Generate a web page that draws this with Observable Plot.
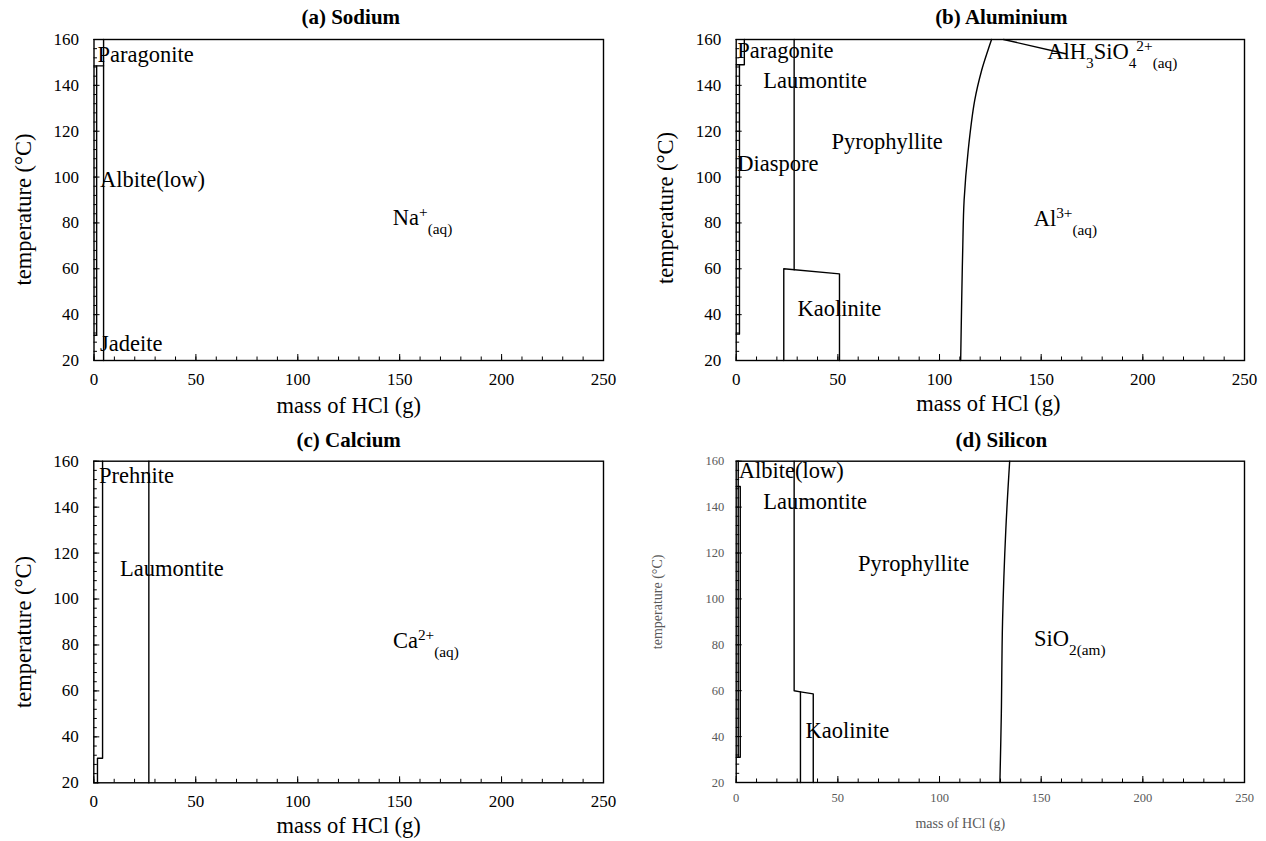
<!DOCTYPE html>
<html><head><meta charset="utf-8">
<script src="https://cdn.jsdelivr.net/npm/d3@7"></script>
<script src="https://cdn.jsdelivr.net/npm/@observablehq/plot@0.6"></script>
<style>
body{margin:0;background:#fff;}
#root{position:relative;width:1266px;height:841px;background:#fff;overflow:hidden;}
#root svg{position:absolute;font-family:"Liberation Serif","Times New Roman",serif;}
#root svg text{font-family:"Liberation Serif","Times New Roman",serif;}
</style></head><body><div id="root"></div>
<script>
// ---------- shared axes ----------
const xMajor = [0, 50, 100, 150, 200, 250];
const xMinor = [0,10,20,30,40,50,60,70,80,90,100,110,120,130,140,150,160,170,180,190,200,210,220,230,240,250];
const yMajor = [20, 40, 60, 80, 100, 120, 140, 160];
const yMinor = [20,24,28,32,36,40,44,48,52,56,60,64,68,72,76,80,84,88,92,96,100,104,108,112,116,120,124,128,132,136,140,144,148,152,156,160];
const xTitle = "mass of HCl (g)";
const yTitle = "temperature (°C)";

// ---------- (a) Sodium ----------
const sodiumTitle = "(a) Sodium";
const sodiumBoundaries = [
  [[4.7, 20], [4.7, 160]],
  [[0, 148.5], [4.7, 148.5]],
  [[1.3, 148.5], [1.3, 31]],
  [[0, 31], [1.3, 31]]
];
const sodiumCurves = [];
const sodiumLabels = ["Paragonite", "Albite(low)", "Jadeite", "Na^{+}_{(aq)}"];
const sodiumLabelX = [1.7, 3.0, 3.0, 146.6];
const sodiumLabelT = [153.5, 99, 27.5, 82.3];

// ---------- (b) Aluminium ----------
const aluminiumTitle = "(b) Aluminium";
const aluminiumBoundaries = [
  [[4.0, 160], [4.0, 149], [0, 149]],
  [[1.6, 149], [1.6, 31.5], [0, 31.5]],
  [[28.5, 160], [28.5, 59.6]],
  [[23.4, 20], [23.4, 60], [50.8, 57.8], [50.8, 20]],
  [[131.5, 160], [162, 153.8]]
];
const aluminiumCurves = [
  [[110.4, 20], [110.9, 46], [111.4, 68], [112.1, 90], [114.1, 111.6], [117.3, 133.4], [120.7, 146.5], [123.7, 155], [125.6, 160]]
];
const aluminiumLabels = ["Paragonite", "Laumontite", "Pyrophyllite", "Diaspore", "Kaolinite", "Al^{3+}_{(aq)}", "AlH_{3}SiO_{4}^{2+}_{(aq)}"];
const aluminiumLabelX = [0.5, 13.3, 46.9, 0.5, 30.2, 146.3, 153];
const aluminiumLabelT = [155.2, 142.1, 115.2, 105.8, 42.5, 82, 154.5];

// ---------- (c) Calcium ----------
const calciumTitle = "(c) Calcium";
const calciumBoundaries = [
  [[4.3, 160], [4.3, 30.7], [1.8, 30.7], [1.8, 20]],
  [[27, 20], [27, 160]]
];
const calciumCurves = [];
const calciumLabels = ["Prehnite", "Laumontite", "Ca^{2+}_{(aq)}"];
const calciumLabelX = [2.5, 12.8, 146.7];
const calciumLabelT = [153.8, 113.2, 82];

// ---------- (d) Silicon ----------
const siliconTitle = "(d) Silicon";
const siliconBoundaries = [
  [[1.0, 160], [1.0, 31]],
  [[0, 149], [2.0, 149], [2.0, 31], [0, 31]],
  [[28.5, 160], [28.5, 60], [31.6, 59.5], [37.9, 58.6], [37.9, 20]],
  [[31.6, 59.5], [31.6, 20]]
];
const siliconCurves = [
  [[129.7, 20], [130.4, 50], [131.0, 90], [132.6, 130], [134.5, 160]]
];
const siliconLabels = ["Albite(low)", "Laumontite", "Pyrophyllite", "Kaolinite", "SiO_{2(am)}"];
const siliconLabelX = [1.3, 13.3, 59.9, 34.1, 146.5];
const siliconLabelT = [156, 142.2, 115.3, 42.5, 82.7];

// ---------- helpers ----------
const toRows = segs => segs.flatMap((seg, i) => seg.map(([x, t]) => ({seg: i, x, t})));
const labelRows = (texts, xs, ts) => texts.map((label, i) => ({label, x: xs[i], t: ts[i]}));
const FONT = "Liberation Serif";

function richify(svg) {
  const ns = "http://www.w3.org/2000/svg";
  svg.querySelectorAll("text").forEach(t => {
    const s = t.textContent;
    if (!/[\^_]\{/.test(s)) return;
    while (t.firstChild) t.removeChild(t.firstChild);
    const re = /([\^_])\{([^}]*)\}|([^\^_]+)/g;
    let m;
    while ((m = re.exec(s))) {
      const ts = document.createElementNS(ns, "tspan");
      if (m[3] !== undefined) {
        ts.textContent = m[3];
      } else {
        ts.textContent = m[2];
        ts.setAttribute("font-size", "68%");
        ts.setAttribute("baseline-shift", m[1] === "^" ? "super" : "sub");
      }
      t.appendChild(ts);
    }
  });
}

function panel(cfg) {
  const {left, top, width, height, mt, mr, mb, ml} = cfg;
  const ih = height - mt - mb, iw = width - ml - mr;
  const svg = Plot.plot({
    width, height,
    marginTop: mt, marginRight: mr, marginBottom: mb, marginLeft: ml,
    x: {domain: [0, 250]},
    y: {domain: [20, 160]},
    style: {fontFamily: FONT, color: "#000", background: "transparent", overflow: "visible"},
    marks: [
      Plot.ruleX(xMinor, {x: d => d, insetTop: ih - 3.5, stroke: "#000", strokeWidth: 1}),
      Plot.ruleX(xMajor, {x: d => d, insetTop: ih - 6, stroke: "#000", strokeWidth: 1}),
      Plot.ruleY(yMinor, {y: d => d, insetRight: iw - 3.5, stroke: "#000", strokeWidth: 1}),
      Plot.ruleY(yMajor, {y: d => d, insetRight: iw - 6, stroke: "#000", strokeWidth: 1}),
      Plot.axisX(xMajor, {tickSize: 0, tickPadding: cfg.xPad, fontSize: cfg.tickFont, fontFamily: FONT, fill: cfg.tickColor, label: null}),
      Plot.axisY(yMajor, {tickSize: 0, tickPadding: cfg.yPad, fontSize: cfg.tickFont, fontFamily: FONT, fill: cfg.tickColor, label: null}),
      Plot.line(toRows(cfg.lines), {x: "x", y: "t", z: "seg", stroke: "#000", strokeWidth: 1.4}),
      Plot.line(toRows(cfg.curves), {x: "x", y: "t", z: "seg", stroke: "#000", strokeWidth: 1.4, curve: "catmull-rom"}),
      Plot.frame({stroke: "#000", strokeWidth: 1.4}),
      Plot.text(cfg.labels, {x: "x", y: "t", text: "label", textAnchor: "start", fontSize: 22.5, fontFamily: FONT, fill: "#000"}),
      Plot.text([cfg.title], {text: d => d, frameAnchor: "top", lineAnchor: "middle", textAnchor: "middle", dx: cfg.titleDx, dy: cfg.titleDy, fontWeight: "bold", fontSize: 21, fontFamily: FONT, fill: "#000"}),
      Plot.text([xTitle], {text: d => d, frameAnchor: "bottom", lineAnchor: "middle", textAnchor: "middle", dx: cfg.xlDx, dy: cfg.xlDy, fontSize: cfg.labFont, fontFamily: FONT, fill: cfg.tickColor}),
      Plot.text([yTitle], {text: d => d, frameAnchor: "left", lineAnchor: "middle", textAnchor: "middle", rotate: -90, dx: cfg.ylDx, dy: cfg.ylDy, fontSize: cfg.labFont, fontFamily: FONT, fill: cfg.tickColor})
    ]
  });
  richify(svg);
  svg.style.left = left + "px";
  svg.style.top = top + "px";
  document.getElementById("root").appendChild(svg);
}

panel({left: 0, top: 0, width: 633, height: 420, mt: 39, mr: 30, mb: 60, ml: 93.5,
  lines: sodiumBoundaries, curves: sodiumCurves, labels: labelRows(sodiumLabels, sodiumLabelX, sodiumLabelT), title: sodiumTitle,
  titleDx: 2, titleDy: -22, tickFont: 17, tickColor: "#000", labFont: 22.5, xPad: 12, yPad: 15,
  xlDx: 0, xlDy: 45, ylDx: -70.5, ylDy: 9.5});

panel({left: 633, top: 0, width: 633, height: 420, mt: 39, mr: 22, mb: 60, ml: 102.7,
  lines: aluminiumBoundaries, curves: aluminiumCurves, labels: labelRows(aluminiumLabels, aluminiumLabelX, aluminiumLabelT), title: aluminiumTitle,
  titleDx: 11, titleDy: -22, tickFont: 17, tickColor: "#000", labFont: 22.5, xPad: 12, yPad: 15,
  xlDx: -2, xlDy: 43, ylDx: -70, ylDy: 8});

panel({left: 0, top: 420, width: 633, height: 421, mt: 40.7, mr: 30, mb: 58.7, ml: 93.3,
  lines: calciumBoundaries, curves: calciumCurves, labels: labelRows(calciumLabels, calciumLabelX, calciumLabelT), title: calciumTitle,
  titleDx: 0, titleDy: -21, tickFont: 17, tickColor: "#000", labFont: 22.5, xPad: 12, yPad: 15,
  xlDx: 0, xlDy: 43, ylDx: -70, ylDy: 10});

panel({left: 633, top: 420, width: 633, height: 421, mt: 40.7, mr: 22, mb: 59, ml: 102.7,
  lines: siliconBoundaries, curves: siliconCurves, labels: labelRows(siliconLabels, siliconLabelX, siliconLabelT), title: siliconTitle,
  titleDx: 11, titleDy: -21, tickFont: 12.5, tickColor: "#595959", labFont: 14, xPad: 11, yPad: 12,
  xlDx: -30, xlDy: 41, ylDx: -79, ylDy: -20});
</script></body></html>
